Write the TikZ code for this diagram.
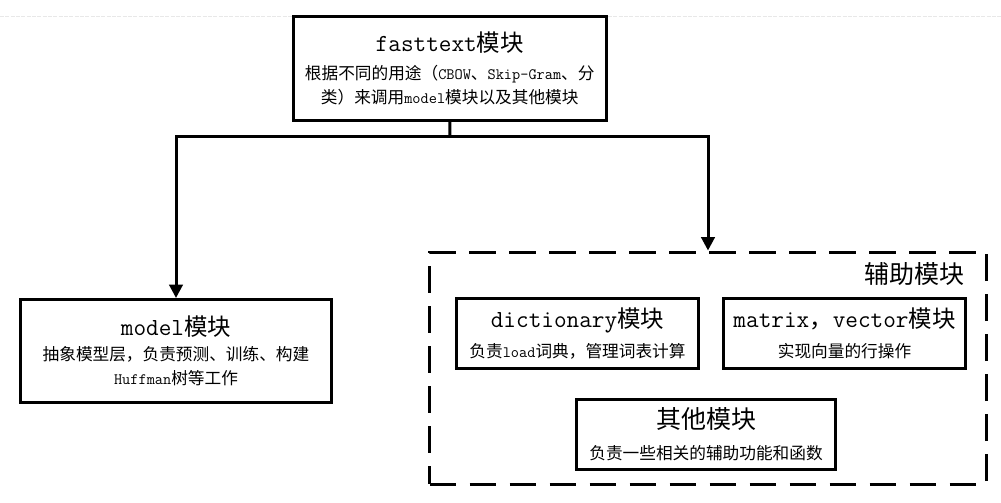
\documentclass[tikz,border=0pt]{standalone}
\usepackage{fontspec}
\newfontfamily\cjk{Noto Sans CJK SC}
\usetikzlibrary{arrows.meta}
\newcommand\cjksz{12.5pt}
\newcommand\zh[1]{{\cjk\fontsize{\cjksz}{18pt}\selectfont #1}}
\newcommand\ttl[1]{{\def\cjksz{17.6pt}\fontsize{18.4pt}{18pt}\ttfamily\selectfont #1}}
\newcommand\bigttl[1]{{\cjk\fontsize{18.75pt}{18pt}\selectfont #1}}
\newcommand\subl[1]{{\def\cjksz{12.5pt}\fontsize{11.9pt}{18pt}\ttfamily\selectfont #1}}
\tikzset{
  box/.style={draw, line width=2.25pt, inner sep=0pt, align=center,
    font=\fontsize{12.5pt}{18pt}\selectfont},
  auxbox/.style={draw, line width=2.25pt, dash pattern=on 20pt off 10pt, inner sep=0pt},
  link/.style={line width=2.25pt},
  conn/.style={line width=2.25pt, -{Triangle[length=10pt,width=10pt]}},
  faint/.style={draw=gray!18, line width=0.6pt, dash pattern=on 3pt off 1pt}
}
\begin{document}
\begin{tikzpicture}[x=0.75pt, y=-0.75pt]
\useasboundingbox (0,0) rectangle (1001,503);
\coordinate (gl) at (0,16);
\coordinate (gr) at (1001,16);
\draw[faint] (gl) -- (gr);

\node[box, minimum width=234.4pt, minimum height=78pt] (top) at (449.75,68.5)
  {\ttl{fasttext\zh{模块}}\\[3.5pt]
   \subl{\zh{根据不同的用途（}CBOW\zh{、}Skip-Gram\zh{、分}}\\
   \subl{\zh{类）来调用}model\zh{模块以及其他模块}}};

\node[box, minimum width=233.25pt, minimum height=77.25pt] (model) at (176,351)
  {\ttl{model\zh{模块}}\\[1pt]
   \subl{\zh{抽象模型层，负责预测、训练、构建}}\\
   \subl{Huffman\zh{树等工作}}};

\node[auxbox, minimum width=417.75pt, minimum height=174pt] (aux) at (708,368) {};
\node[anchor=east, inner sep=0pt] (auxlabel) at (965,274) {\bigttl{辅助模块}};

\node[box, minimum width=181.5pt, minimum height=52.5pt] (dict) at (577.5,333.5)
  {\ttl{dictionary\zh{模块}}\\[4pt]
   \subl{\zh{负责}load\zh{词典，管理词表计算}}};

\node[box, minimum width=181.5pt, minimum height=52.5pt] (matrix) at (844.5,333.5)
  {\ttl{matrix\zh{，}vector\zh{模块}}\\[4pt]
   \subl{\zh{实现向量的行操作}}};

\node[box, minimum width=194.25pt, minimum height=52.5pt] (other) at (706,434.5)
  {\bigttl{其他模块}\\[5.4pt]
   \subl{\zh{负责一些相关的辅助功能和函数}}};

\coordinate (j) at (450,137);
\draw[link] (top.south) -- (j);
\draw[conn] (j) -| (model.north);
\draw[conn] (j) -| (aux.north);
\end{tikzpicture}
\end{document}
